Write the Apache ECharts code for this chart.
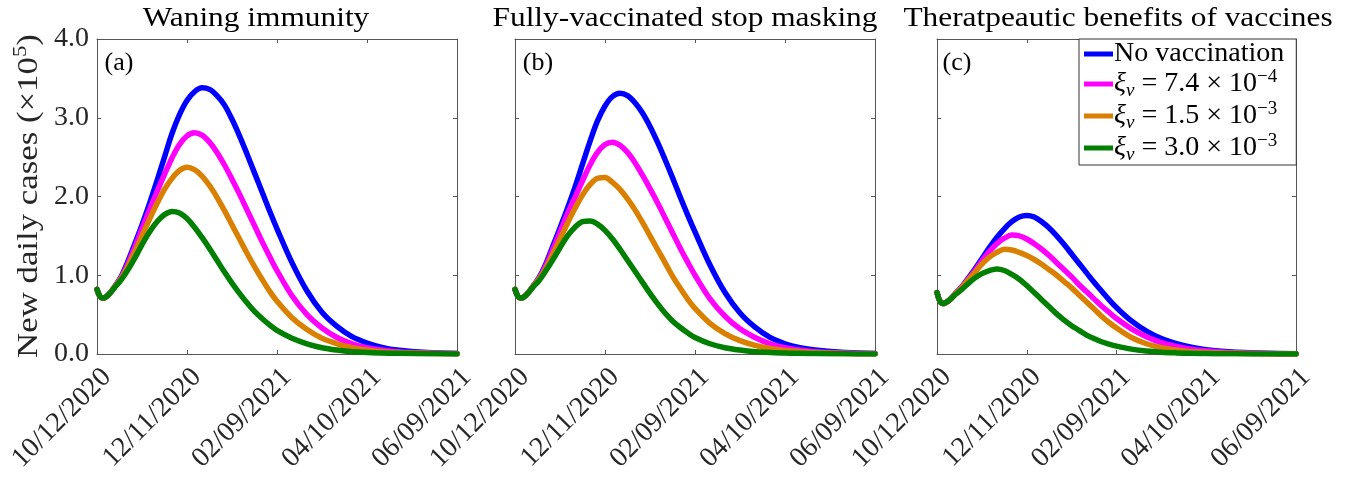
<!DOCTYPE html>
<html><head><meta charset="utf-8">
<script src="https://cdn.jsdelivr.net/npm/echarts@6/dist/echarts.min.js"></script>
<style>html,body{margin:0;padding:0;background:#fff}#c{width:1348px;height:478px}</style>
</head><body><div id="c"></div>
<script>
// ---- data ----
const days = [0,2,4,8,12,16,20,25,30,35,40,45,50,55,60,65,70,75,80,85,90,95,100,105,110,115,120,130,140,150,160,170,180,190,200,220,240];
const xTickLabels = ['10/12/2020','12/11/2020','02/09/2021','04/10/2021','06/09/2021'];
const yTickLabels = ['0.0','1.0','2.0','3.0','4.0'];
const seriesNames = ['No vaccination','ξv = 7.4 × 10−4','ξv = 1.5 × 10−3','ξv = 3.0 × 10−3'];
const panelTitles = ['Waning immunity','Fully-vaccinated stop masking','Theratpeautic benefits of vaccines'];
const panelLabels = ['(a)','(b)','(c)'];

// (a) Waning immunity
const waningNoVacc = [0.82,0.73,0.71,0.76,0.86,0.98,1.15,1.39,1.64,1.91,2.20,2.50,2.80,3.04,3.22,3.33,3.38,3.36,3.28,3.16,2.98,2.77,2.54,2.30,2.06,1.82,1.59,1.16,0.80,0.53,0.35,0.22,0.14,0.085,0.05,0.018,0.007];
const waningXi1 = [0.82,0.73,0.71,0.76,0.86,0.97,1.12,1.35,1.59,1.83,2.06,2.28,2.49,2.66,2.77,2.81,2.78,2.69,2.56,2.40,2.22,2.03,1.83,1.63,1.43,1.24,1.06,0.74,0.50,0.33,0.21,0.13,0.08,0.05,0.03,0.012,0.005];
const waningXi2 = [0.82,0.73,0.71,0.76,0.86,0.96,1.09,1.29,1.50,1.71,1.91,2.09,2.23,2.33,2.37,2.34,2.26,2.14,1.99,1.82,1.64,1.46,1.28,1.11,0.95,0.80,0.67,0.46,0.31,0.20,0.13,0.08,0.05,0.03,0.02,0.008,0.003];
const waningXi3 = [0.82,0.73,0.71,0.76,0.85,0.94,1.05,1.21,1.39,1.55,1.68,1.77,1.81,1.79,1.72,1.61,1.48,1.34,1.19,1.04,0.90,0.77,0.65,0.54,0.45,0.37,0.30,0.20,0.13,0.08,0.05,0.03,0.02,0.012,0.008,0.003,0];

// (b) Fully-vaccinated stop masking
const maskNoVacc = [0.82,0.73,0.71,0.76,0.86,0.97,1.12,1.36,1.60,1.85,2.12,2.41,2.70,2.96,3.15,3.27,3.31,3.28,3.19,3.06,2.89,2.69,2.47,2.24,2.00,1.77,1.55,1.13,0.78,0.52,0.34,0.21,0.13,0.08,0.05,0.018,0.007];
const maskXi1 = [0.82,0.73,0.71,0.76,0.86,0.96,1.10,1.32,1.55,1.78,1.99,2.20,2.40,2.56,2.66,2.69,2.65,2.56,2.43,2.27,2.10,1.92,1.73,1.54,1.35,1.17,1.00,0.70,0.48,0.32,0.21,0.13,0.08,0.05,0.03,0.012,0.005];
const maskXi2 = [0.82,0.73,0.71,0.76,0.86,0.95,1.07,1.26,1.46,1.66,1.85,2.02,2.15,2.23,2.24,2.18,2.09,1.97,1.83,1.67,1.50,1.33,1.16,0.99,0.84,0.70,0.58,0.39,0.26,0.17,0.11,0.07,0.045,0.03,0.02,0.007,0.003];
const maskXi3 = [0.82,0.73,0.71,0.76,0.85,0.93,1.04,1.19,1.35,1.50,1.61,1.68,1.69,1.65,1.57,1.46,1.33,1.19,1.05,0.91,0.77,0.64,0.52,0.42,0.34,0.27,0.21,0.13,0.08,0.05,0.03,0.02,0.012,0.008,0.005,0.002,0];

// (c) Therapeutic benefits of vaccines
const theraNoVacc = [0.78,0.67,0.64,0.68,0.76,0.84,0.94,1.07,1.21,1.35,1.48,1.59,1.68,1.74,1.76,1.74,1.68,1.60,1.50,1.39,1.27,1.15,1.03,0.91,0.80,0.69,0.59,0.42,0.29,0.195,0.13,0.085,0.055,0.035,0.022,0.009,0.004];
const theraXi1 = [0.78,0.67,0.64,0.68,0.76,0.84,0.93,1.05,1.18,1.30,1.40,1.47,1.51,1.50,1.46,1.40,1.33,1.25,1.16,1.07,0.98,0.88,0.79,0.70,0.61,0.53,0.45,0.32,0.22,0.145,0.095,0.06,0.04,0.025,0.016,0.006,0.002];
const theraXi2 = [0.78,0.67,0.64,0.68,0.76,0.83,0.92,1.03,1.14,1.23,1.29,1.33,1.32,1.29,1.25,1.20,1.14,1.07,1.00,0.92,0.84,0.75,0.66,0.57,0.48,0.40,0.33,0.21,0.13,0.08,0.05,0.03,0.02,0.012,0.008,0.003,0];
const theraXi3 = [0.78,0.67,0.64,0.68,0.75,0.81,0.88,0.96,1.02,1.06,1.08,1.06,1.01,0.95,0.87,0.78,0.69,0.60,0.51,0.43,0.36,0.30,0.24,0.195,0.155,0.125,0.10,0.062,0.038,0.023,0.014,0.008,0.005,0.003,0.002,0,0];

const panelData = [
  [waningNoVacc, waningXi1, waningXi2, waningXi3],
  [maskNoVacc, maskXi1, maskXi2, maskXi3],
  [theraNoVacc, theraXi1, theraXi2, theraXi3]
];

// ---- style ----
const colors = ['#0000ff', '#ff00ff', '#d98000', '#007f00'];
const FONT = 'Liberation Serif';
const TXT = '#262626';
const AX = '#555555';
const grids = [
  {left: 97, top: 39, width: 360, height: 315},
  {left: 515, top: 39, width: 360, height: 315},
  {left: 937, top: 39, width: 359, height: 315}
];
const titleCenters = [256, 685, 1118];
const labelCenters = [119, 538, 957];

const xAxes = [], yAxes = [], series = [];
grids.forEach((g, p) => {
  const lineStyle = {color: AX, width: 1};
  xAxes.push({
    type: 'value', gridIndex: p, min: 0, max: 240, interval: 60, position: 'bottom',
    axisLine: {show: true, onZero: false, lineStyle},
    axisTick: {show: true, inside: true, length: 4, lineStyle},
    splitLine: {show: false},
    axisLabel: {show: true, rotate: 45, margin: 9, fontSize: 28, fontFamily: FONT, color: TXT,
      verticalAlign: 'top', align: 'right',
      showMinLabel: true, showMaxLabel: true, hideOverlap: false,
      formatter: v => xTickLabels[Math.round(v / 60)]}
  });
  xAxes.push({
    type: 'value', gridIndex: p, min: 0, max: 240, interval: 60, position: 'top',
    axisLine: {show: true, onZero: false, lineStyle},
    axisTick: {show: true, inside: true, length: 4, lineStyle},
    splitLine: {show: false}, axisLabel: {show: false}
  });
  yAxes.push({
    type: 'value', gridIndex: p, min: 0, max: 4, interval: 1, position: 'left',
    axisLine: {show: true, onZero: false, lineStyle},
    axisTick: {show: true, inside: true, length: 4, lineStyle},
    splitLine: {show: false},
    axisLabel: {show: p === 0, margin: 8, fontSize: 28, fontFamily: FONT, color: TXT,
      formatter: v => yTickLabels[Math.round(v)]}
  });
  yAxes.push({
    type: 'value', gridIndex: p, min: 0, max: 4, interval: 1, position: 'right',
    axisLine: {show: true, onZero: false, lineStyle},
    axisTick: {show: true, inside: true, length: 4, lineStyle},
    splitLine: {show: false}, axisLabel: {show: false}
  });
  panelData[p].forEach((arr, k) => {
    series.push({
      type: 'line', name: seriesNames[k], xAxisIndex: p * 2, yAxisIndex: p * 2,
      data: days.map((d, i) => [d, arr[i]]),
      smooth: 0.35, showSymbol: false, symbol: 'none',
      lineStyle: {color: colors[k], width: 5.5, cap: 'round', join: 'round'}, itemStyle: {color: colors[k]},
      emphasis: {disabled: true}, animation: false
    });
  });
});

const legendRich = {
  n: {fontSize: 28, fontFamily: FONT, color: '#000', lineHeight: 32},
  xi: {fontSize: 28, fontFamily: FONT, color: '#000', fontStyle: 'italic', lineHeight: 32},
  sub: {fontSize: 19, fontFamily: FONT, color: '#000', fontStyle: 'italic', verticalAlign: 'bottom', lineHeight: 22},
  sup: {fontSize: 19, fontFamily: FONT, color: '#000', verticalAlign: 'top', lineHeight: 18}
};
function legendText(name) {
  const k = seriesNames.indexOf(name);
  if (k === 0) return '{n|No vaccination}';
  const parts = name.match(/^ξv = ([\d.]+) × 10(−\d)$/);
  return '{xi|ξ}{sub|v}{n| = ' + parts[1] + ' × 10}{sup|' + parts[2] + '}';
}

const graphics = [];
panelTitles.forEach((t, p) => {
  graphics.push({type: 'text', x: titleCenters[p], y: 19, scaleX: 1.12,
    style: {text: t, font: '28px "' + FONT + '"', fill: '#000', textAlign: 'center', textVerticalAlign: 'middle'}});
  graphics.push({type: 'text', x: labelCenters[p], y: 63,
    style: {text: panelLabels[p], font: '26px "' + FONT + '"', fill: '#000', textAlign: 'center', textVerticalAlign: 'middle'}});
});
graphics.push({type: 'text', x: 29, y: 196, rotation: Math.PI / 2, scaleX: 1.2,
  style: {text: '{n|New daily cases (×10}{s|5}{n|)}', textAlign: 'center', textVerticalAlign: 'middle',
    rich: {n: {fontSize: 29, fontFamily: FONT, fill: TXT, lineHeight: 34}, s: {fontSize: 19, fontFamily: FONT, fill: TXT, verticalAlign: 'top', lineHeight: 20}}}});

const chart = echarts.init(document.getElementById('c'), null, {renderer: 'canvas'});
chart.setOption({
  animation: false,
  backgroundColor: '#fff',
  grid: grids,
  xAxis: xAxes,
  yAxis: yAxes,
  series: series,
  legend: {
    data: seriesNames, orient: 'vertical', left: 1079, top: 39,
    padding: [1, 12, 1, 5], itemGap: 0, itemWidth: 29, itemHeight: 5, icon: 'rect',
    backgroundColor: '#fff', borderColor: '#333', borderWidth: 1, borderRadius: 0,
    formatter: legendText, textStyle: {rich: legendRich, padding: [0, 0, 0, -4]},
    selectedMode: false
  },
  graphic: graphics
});
</script></body></html>
